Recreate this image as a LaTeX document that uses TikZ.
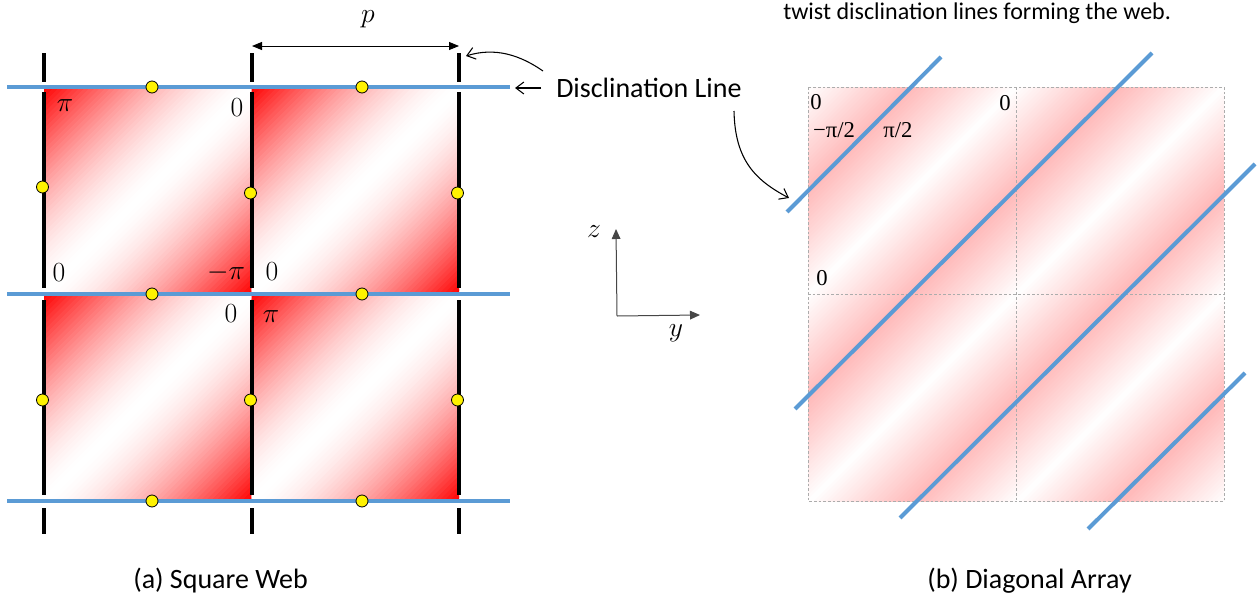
\documentclass[tikz,border=0pt]{standalone}
\usepackage[no-math]{fontspec}
\setmainfont{Carlito}
\newfontfamily\serifl{Liberation Serif}
\usetikzlibrary{arrows.meta}
\definecolor{lineblue}{RGB}{91,155,213}
\definecolor{axisgray}{RGB}{70,70,70}
\newcommand\redsquare[3]{%
  \begin{scope}
    \clip (#1,#2) rectangle ++(#3,#3);
    \foreach \k in {0,...,79}{%
      \pgfmathsetmacro\ua{#3/40*\k}%
      \pgfmathsetmacro\ub{#3/40*(\k+1)+1.5}%
      \pgfmathsetmacro\pc{100*pow(abs((\k+0.5)/40-1),1.6)}%
      \fill[red!\pc] ({#1+\ua/2-#3},{#2+\ua/2+#3}) -- ({#1+\ua/2+#3},{#2+\ua/2-#3}) -- ({#1+\ub/2+#3},{#2+\ub/2-#3}) -- ({#1+\ub/2-#3},{#2+\ub/2+#3}) -- cycle;
    }
  \end{scope}}
\begin{document}
\begin{tikzpicture}[x=0.75pt,y=-0.75pt,
  blueline/.style={lineblue, line width=3pt},
  blackseg/.style={black, line width=3pt},
  ydot/.style={circle, fill=yellow, draw=black, line width=0.6pt, inner sep=0pt, minimum size=9pt},
  lab/.style={inner sep=0pt, font=\fontsize{21}{25}\selectfont},
  axl/.style={inner sep=0pt, font=\fontsize{22}{26}\selectfont},
  rlab/.style={inner sep=0pt, font=\serifl\fontsize{17}{20}\selectfont},
  gridline/.style={draw=gray!65, dash pattern=on 2pt off 1.5pt, line width=0.5pt},
  openarrow/.style={-{Straight Barb[length=6pt,width=9pt]}, line width=0.8pt},
  axisarrow/.style={axisgray, line width=0.75pt, -{Triangle[length=7.5pt,width=6.5pt]}},
  caption/.style={inner sep=0pt, anchor=base west, font=\fontsize{21}{25}\selectfont},
]
\useasboundingbox (0,0) rectangle (1257,596);
\fill[white] (0,0) rectangle (1257,596);

% ---- left panel: gradient squares
\redsquare{44}{87}{207.5}
\redsquare{251.5}{87}{207.5}
\redsquare{44}{294}{207.5}
\redsquare{251.5}{294}{207.5}

% ---- right panel: periodic stripes
\begin{scope}
  \clip (808,87) rectangle (1224,501);
  \foreach \k in {0,...,207}{%
    \pgfmathsetmacro\ua{4*\k}%
    \pgfmathsetmacro\ub{4*\k+5.5}%
    \pgfmathsetmacro\ph{mod(4*\k+2,208)}%
    \pgfmathsetmacro\pc{27*(1-abs(\ph-104)/104)}%
    \fill[red!\pc] ({808+\ua/2-450},{87+\ua/2+450}) -- ({808+\ua/2+450},{87+\ua/2-450}) -- ({808+\ub/2+450},{87+\ub/2-450}) -- ({808+\ub/2-450},{87+\ub/2+450}) -- cycle;
  }
\end{scope}
\draw[gridline] (808,87) rectangle (1224,501);
\draw[gridline] (1016,87) -- (1016,501);
\draw[gridline] (808,294) -- (1224,294);

% ---- blue lines
\foreach \yy in {87,294,501}{ \draw[blueline] (7,\yy) -- (510,\yy); }
\draw[blueline] (787,212) -- (941,57);
\draw[blueline] (795,409) -- (1152,53);
\draw[blueline] (900,518) -- (1255,164);
\draw[blueline] (1088,529) -- (1245,373);

% ---- black vertical segments
\foreach \xx in {44,252,459}{
  \draw[blackseg] (\xx,53) -- (\xx,82);
  \draw[blackseg] (\xx,92) -- (\xx,288);
  \draw[blackseg] (\xx,300) -- (\xx,495);
  \draw[blackseg] (\xx,508) -- (\xx,534);
}

% ---- yellow dots
\node[ydot] (d1) at (152,87) {};
\node[ydot] (d2) at (362,87) {};
\node[ydot] (d3) at (152,294) {};
\node[ydot] (d4) at (362,294) {};
\node[ydot] (d5) at (152,501) {};
\node[ydot] (d6) at (362,501) {};
\node[ydot] (d7) at (42.5,187) {};
\node[ydot] (d8) at (42.5,400) {};
\node[ydot] (d9) at (250.5,193) {};
\node[ydot] (d10) at (250.5,400) {};
\node[ydot] (d11) at (457.5,193) {};
\node[ydot] (d12) at (457.5,400) {};

% ---- left labels
\node[lab] (l1) at (65,106) {$\pi$};
\node[lab] (l2) at (237,108) {$0$};
\node[lab] (l3) at (59,273) {$0$};
\node[lab] (l4) at (226,273) {$-\pi$};
\node[lab] (l5) at (272,272) {$0$};
\node[lab] (l6) at (231,314) {$0$};
\node[lab] (l7) at (271,317) {$\pi$};

% ---- right labels
\node[rlab] (r1) at (816,102) {0};
\node[rlab] (r2) at (1005,103) {0};
\node[rlab] (r3) at (834,130) {−π/2};
\node[rlab] (r4) at (898,130) {π/2};
\node[rlab] (r5) at (822,278) {0};

% ---- period arrow
\coordinate (pa) at (252,46);
\coordinate (pb) at (459,46);
\draw[line width=0.75pt, {Triangle[length=7.5pt,width=6pt]}-{Triangle[length=7.5pt,width=6pt]}] (pa) -- (pb);
\node[axl] (plab) at (368,19) {$p$};

% ---- axes
\coordinate (O) at (617,316);
\coordinate (zt) at (616,229);
\coordinate (yt) at (700,315);
\draw[axisarrow] (O) -- (zt);
\draw[axisarrow] (O) -- (yt);
\node[axl] (zl) at (594,232) {$z$};
\node[axl] (yl) at (676,333) {$y$};

% ---- Disclination Line label and arrows
\node[inner sep=0pt, anchor=base west, font=\fontsize{21}{25}\selectfont] (dl) at (556,97) {Disclination Line};
\coordinate (a1s) at (541,88);
\coordinate (a1e) at (515,88);
\draw[openarrow] (a1s) -- (a1e);
\coordinate (a2s) at (543,71);
\coordinate (a2e) at (466,56);
\draw[openarrow] (a2s) .. controls (520,55) and (495,47) .. (a2e);
\coordinate (a3s) at (734,111);
\coordinate (a3e) at (789,198);
\draw[openarrow] (a3s) .. controls (735,160) and (755,180) .. (a3e);

% ---- texts
\node[inner sep=0pt, anchor=base west, font=\fontsize{18}{22}\selectfont] (top) at (783,19.5) {twist disclination lines forming the web.};
\node[caption] (capa) at (133,588) {(a) Square Web};
\node[caption] (capb) at (927,588) {(b) Diagonal Array};
\end{tikzpicture}
\end{document}
